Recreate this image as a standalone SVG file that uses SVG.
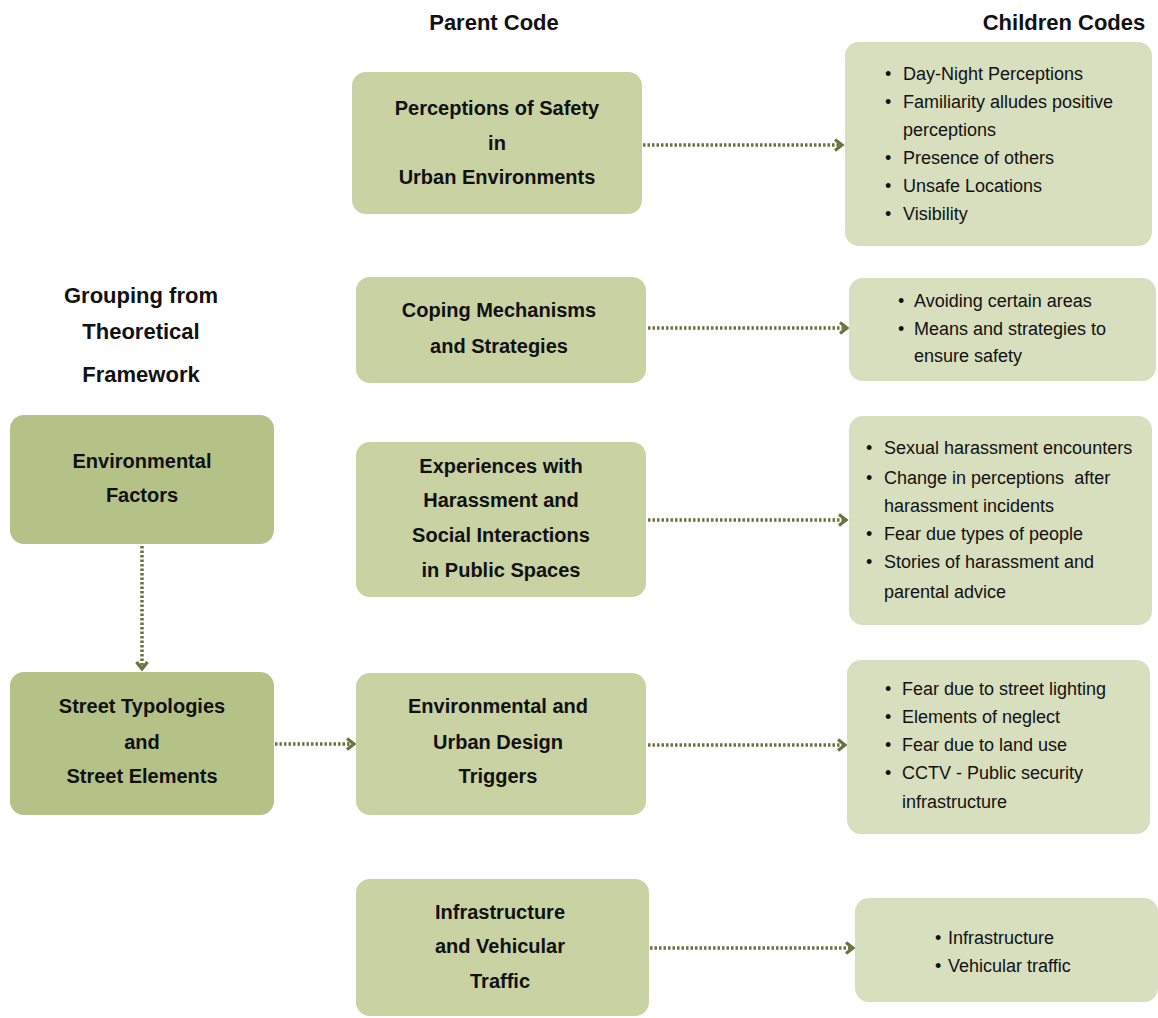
<svg xmlns="http://www.w3.org/2000/svg" width="1158" height="1018" viewBox="0 0 1158 1018">
<defs>
<style>
.hdr{font-family:"Liberation Sans",Arial,sans-serif;font-weight:bold;font-size:22px;fill:#111;text-anchor:middle}
.pt{font-family:"Liberation Sans",Arial,sans-serif;font-weight:bold;font-size:20px;fill:#111;text-anchor:middle}
.ct{font-family:"Liberation Sans",Arial,sans-serif;font-size:18px;fill:#111}
.parent{fill:#c9d2a3}
.child{fill:#d8dfbf}
.group{fill:#b5c287}
.conn{fill:none;stroke:#6b7340;stroke-width:3.5;stroke-dasharray:2.5 2}
</style>
<marker id="arr" viewBox="0 0 14 14" refX="11" refY="7" markerWidth="14" markerHeight="14" markerUnits="userSpaceOnUse" orient="auto">
<path d="M4,1.5 L11,7 L4,12.5" fill="none" stroke="#6b7340" stroke-width="3.2"/>
</marker>
</defs>
<rect width="1158" height="1018" fill="#fff"/>

<g id="headers">
<text class="hdr" x="494" y="30">Parent Code</text>
<text class="hdr" x="1064" y="30">Children Codes</text>
<text class="hdr" x="141" y="303">Grouping from</text>
<text class="hdr" x="141" y="339">Theoretical</text>
<text class="hdr" x="141" y="382">Framework</text>
</g>

<g id="connectors">
<line class="conn" x1="643" y1="145" x2="842" y2="145" marker-end="url(#arr)"/>
<line class="conn" x1="648" y1="328" x2="847" y2="328" marker-end="url(#arr)"/>
<line class="conn" x1="648" y1="520" x2="846" y2="520" marker-end="url(#arr)"/>
<line class="conn" x1="648" y1="745" x2="845" y2="745" marker-end="url(#arr)"/>
<line class="conn" x1="650" y1="948" x2="853" y2="948" marker-end="url(#arr)"/>
<line class="conn" x1="142" y1="546" x2="142" y2="669" marker-end="url(#arr)"/>
<line class="conn" x1="275" y1="744" x2="354" y2="744" marker-end="url(#arr)"/>
</g>

<g id="env-factors">
<rect class="group" x="10" y="415" width="264" height="129" rx="14"/>
<text class="pt" x="142" y="468">Environmental</text>
<text class="pt" x="142" y="502">Factors</text>
</g>
<g id="street-typologies">
<rect class="group" x="10" y="672" width="264" height="143" rx="14"/>
<text class="pt" x="142" y="713">Street Typologies</text>
<text class="pt" x="142" y="749">and</text>
<text class="pt" x="142" y="783">Street Elements</text>
</g>

<g id="p-perceptions">
<rect class="parent" x="352" y="72" width="290" height="142" rx="14"/>
<text class="pt" x="497" y="115">Perceptions of Safety</text>
<text class="pt" x="497" y="150">in</text>
<text class="pt" x="497" y="184">Urban Environments</text>
</g>
<g id="p-coping">
<rect class="parent" x="356" y="277" width="290" height="106" rx="14"/>
<text class="pt" x="499" y="317">Coping Mechanisms</text>
<text class="pt" x="499" y="353">and Strategies</text>
</g>
<g id="p-experiences">
<rect class="parent" x="356" y="442" width="290" height="155" rx="14"/>
<text class="pt" x="501" y="473">Experiences with</text>
<text class="pt" x="501" y="507">Harassment and</text>
<text class="pt" x="501" y="542">Social Interactions</text>
<text class="pt" x="501" y="577">in Public Spaces</text>
</g>
<g id="p-triggers">
<rect class="parent" x="356" y="673" width="290" height="142" rx="14"/>
<text class="pt" x="498" y="713">Environmental and</text>
<text class="pt" x="498" y="749">Urban Design</text>
<text class="pt" x="498" y="783">Triggers</text>
</g>
<g id="p-infrastructure">
<rect class="parent" x="356" y="879" width="293" height="137" rx="14"/>
<text class="pt" x="500" y="919">Infrastructure</text>
<text class="pt" x="500" y="953">and Vehicular</text>
<text class="pt" x="500" y="988">Traffic</text>
</g>

<g id="c-perceptions">
<rect class="child" x="845" y="42" width="307" height="204" rx="14"/>
<g class="ct">
<text x="885" y="80">•</text><text x="903" y="80">Day-Night Perceptions</text>
<text x="885" y="108">•</text><text x="903" y="108">Familiarity alludes positive</text>
<text x="903" y="136">perceptions</text>
<text x="885" y="164">•</text><text x="903" y="164">Presence of others</text>
<text x="885" y="192">•</text><text x="903" y="192">Unsafe Locations</text>
<text x="885" y="220">•</text><text x="903" y="220">Visibility</text>
</g>
</g>
<g id="c-coping">
<rect class="child" x="849" y="278" width="307" height="103" rx="14"/>
<g class="ct">
<text x="898" y="307">•</text><text x="914" y="307">Avoiding certain areas</text>
<text x="898" y="335">•</text><text x="914" y="335">Means and strategies to</text>
<text x="914" y="362">ensure safety</text>
</g>
</g>
<g id="c-experiences">
<rect class="child" x="849" y="416" width="303" height="209" rx="14"/>
<g class="ct">
<text x="866" y="454">•</text><text x="884" y="454">Sexual harassment encounters</text>
<text x="866" y="484">•</text><text x="884" y="484" style="white-space:pre">Change in perceptions  after</text>
<text x="884" y="512">harassment incidents</text>
<text x="866" y="540">•</text><text x="884" y="540">Fear due types of people</text>
<text x="866" y="568">•</text><text x="884" y="568">Stories of harassment and</text>
<text x="884" y="598">parental advice</text>
</g>
</g>
<g id="c-triggers">
<rect class="child" x="847" y="660" width="303" height="174" rx="14"/>
<g class="ct">
<text x="885" y="695">•</text><text x="902" y="695">Fear due to street lighting</text>
<text x="885" y="723">•</text><text x="902" y="723">Elements of neglect</text>
<text x="885" y="751">•</text><text x="902" y="751">Fear due to land use</text>
<text x="885" y="779">•</text><text x="902" y="779">CCTV - Public security</text>
<text x="902" y="808">infrastructure</text>
</g>
</g>
<g id="c-infrastructure">
<rect class="child" x="855" y="898" width="303" height="104" rx="14"/>
<g class="ct">
<text x="935" y="944">•</text><text x="948" y="944">Infrastructure</text>
<text x="935" y="972">•</text><text x="948" y="972">Vehicular traffic</text>
</g>
</g>
</svg>
